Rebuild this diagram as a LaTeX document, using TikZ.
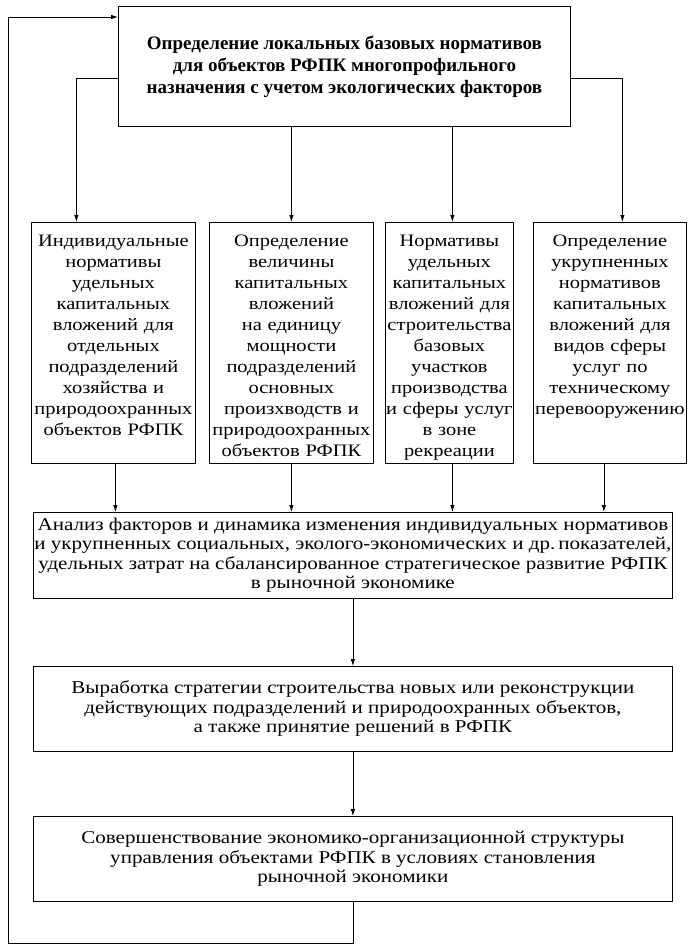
\documentclass[tikz,border=0pt]{standalone}
\usepackage{fontspec}
\setmainfont{Liberation Serif}[FakeStretch=1.17]
\newfontfamily\headfont{Liberation Serif}
\usetikzlibrary{arrows.meta,positioning}

\begin{document}
\begin{tikzpicture}[x=1pt, y=-1pt, line width=0.8pt,
    >={Latex[length=7pt,width=4.5pt]},
    headbox/.style={draw, align=center, anchor=north west,
        font=\headfont\bfseries\fontsize{19}{22}\selectfont},
    colbox/.style={draw, align=center, anchor=north west, inner xsep=0pt, inner ysep=0pt,
        text height=24pt, text depth=217pt, font=\fontsize{17.5}{21}\selectfont},
    rowbox/.style={draw, align=center, anchor=north west, inner xsep=0pt,
        minimum width=639pt, font=\fontsize{18}{19.5}\selectfont}]
    \fill [white] (0,0) rectangle (693,950);
    \useasboundingbox (0,0) rectangle (693,950);

    \node (top) [headbox, minimum width=452pt, minimum height=120pt] at (118,6)
        {Определение локальных базовых нормативов\\для объектов РФПК многопрофильного\\назначения с учетом экологических факторов};

    % four columns
    \node (ind) [colbox, text width=164pt] at (31,222)
        {Индивидуальные\\нормативы\\удельных\\капитальных\\вложений для\\отдельных\\подразделений\\хозяйства и\\природоохранных\\объектов РФПК};
    \node (unit) [colbox, text width=164pt] at (209,222)
        {Определение\\величины\\капитальных\\вложений\\на единицу\\мощности\\подразделений\\основных\\произхводств и\\природоохранных\\объектов РФПК};
    \node (base) [colbox, text width=128pt] at (385,222)
        {Нормативы\\удельных\\капитальных\\вложений для\\строительства\\базовых\\участков\\производства\\\mbox{и сферы услуг}\\в зоне\\рекреации};
    \node (serv) [colbox, text width=153pt] at (533,222)
        {Определение\\укрупненных\\нормативов\\капитальных\\вложений для\\видов сферы\\услуг по\\техническому\\перевооружению};

    \node (anal) [rowbox, minimum height=86pt] at (33,512)
        {Анализ факторов и динамика изменения индивидуальных нормативов\\и укрупненных социальных, эколого-экономических и др.\,показателей,\\удельных затрат на сбалансированное стратегическое развитие РФПК\\в рыночной экономике};
    \node (strat) [rowbox, minimum height=85pt] at (33,666)
        {Выработка стратегии строительства новых или реконструкции\\действующих подразделений и природоохранных объектов,\\а также принятие решений в РФПК};
    \node (impr) [rowbox, minimum height=85pt] at (33,816)
        {Совершенствование экономико-организационной структуры\\управления объектами РФПК в условиях становления\\рыночной экономики};

    \coordinate (loopbot) at (8,943);
    \coordinate (looptop) at (8,17);

    \draw [->] ([yshift=-12pt]top.west) -| ([xshift=-37pt]ind.north);
    \draw [->] ([yshift=-12pt]top.east) -| ([xshift=12.5pt]serv.north);
    \draw [->] (top.south -| unit.north) -- (unit.north);
    \draw [->] ([xshift=3pt]top.south -| base.north) -- ([xshift=3pt]base.north);

    \foreach \n/\dx in {ind/2,unit/0,base/3,serv/-6}
        \draw [->] ([xshift=\dx pt]\n.south) -- ([xshift=\dx pt]\n.south |- anal.north);

    \draw [->] (anal) -- (strat);
    \draw [->] (strat) -- (impr);
    \draw [->] (impr.south) |- (loopbot) -- (looptop) -- (looptop -| top.west);
\end{tikzpicture}
\end{document}
